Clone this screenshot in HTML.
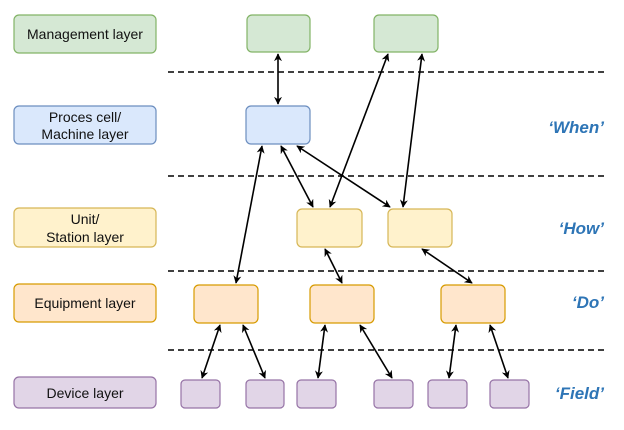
<!DOCTYPE html>
<html><head><meta charset="utf-8"><style>
html,body{margin:0;padding:0;background:#fff}
text{font-family:"Liberation Sans",sans-serif}
</style></head><body>
<svg width="624" height="425" viewBox="0 0 624 425" xmlns="http://www.w3.org/2000/svg">
<defs>
<marker id="a" viewBox="0 0 10 10" refX="9" refY="5" markerWidth="8" markerHeight="8" orient="auto-start-reverse" markerUnits="userSpaceOnUse">
<path d="M0,0 L10,5 L0,10 L3,5 z" fill="#000"/></marker>
</defs>
<g stroke="#000" stroke-width="1.6" stroke-dasharray="6,4">
<line x1="168" y1="72" x2="606" y2="72"/>
<line x1="168" y1="176" x2="606" y2="176"/>
<line x1="168" y1="271" x2="606" y2="271"/>
<line x1="168" y1="350" x2="606" y2="350"/>
</g>
<g stroke-width="1.2">
<rect x="14" y="15" width="142" height="38" rx="5" fill="#d5e8d4" stroke="#82b366"/>
<rect x="14" y="106" width="142" height="38" rx="5" fill="#dae8fc" stroke="#6c8ebf"/>
<rect x="14" y="208" width="142" height="39" rx="5" fill="#fff2cc" stroke="#d6b656"/>
<rect x="14" y="284" width="142" height="38" rx="5" fill="#ffe6cc" stroke="#d79b00"/>
<rect x="14" y="377" width="142" height="31" rx="5" fill="#e1d5e7" stroke="#9673a6"/>

<rect x="247" y="15" width="63" height="37" rx="5" fill="#d5e8d4" stroke="#82b366"/>
<rect x="374" y="15" width="64" height="37" rx="5" fill="#d5e8d4" stroke="#82b366"/>
<rect x="246" y="106" width="64" height="38" rx="5" fill="#dae8fc" stroke="#6c8ebf"/>
<rect x="297" y="209" width="65" height="38" rx="5" fill="#fff2cc" stroke="#d6b656"/>
<rect x="388" y="209" width="64" height="38" rx="5" fill="#fff2cc" stroke="#d6b656"/>
<rect x="194" y="285" width="64" height="38" rx="5" fill="#ffe6cc" stroke="#d79b00"/>
<rect x="310" y="285" width="64" height="38" rx="5" fill="#ffe6cc" stroke="#d79b00"/>
<rect x="441" y="285" width="64" height="38" rx="5" fill="#ffe6cc" stroke="#d79b00"/>
<rect x="181" y="380" width="39" height="28" rx="4" fill="#e1d5e7" stroke="#9673a6"/>
<rect x="246" y="380" width="38" height="28" rx="4" fill="#e1d5e7" stroke="#9673a6"/>
<rect x="297" y="380" width="39" height="28" rx="4" fill="#e1d5e7" stroke="#9673a6"/>
<rect x="374" y="380" width="39" height="28" rx="4" fill="#e1d5e7" stroke="#9673a6"/>
<rect x="428" y="380" width="39" height="28" rx="4" fill="#e1d5e7" stroke="#9673a6"/>
<rect x="490" y="380" width="39" height="28" rx="4" fill="#e1d5e7" stroke="#9673a6"/>
</g>
<g stroke="#000" stroke-width="1.6" marker-start="url(#a)" marker-end="url(#a)">
<line x1="278" y1="54" x2="278" y2="104"/>
<line x1="388" y1="54" x2="330" y2="207"/>
<line x1="422" y1="54" x2="403" y2="207"/>
<line x1="262" y1="146" x2="236" y2="283"/>
<line x1="281" y1="146" x2="313" y2="207"/>
<line x1="297" y1="146" x2="390" y2="207"/>
<line x1="325" y1="249" x2="342" y2="283"/>
<line x1="422" y1="249" x2="472" y2="283"/>
<line x1="220" y1="325" x2="202" y2="378"/>
<line x1="243" y1="325" x2="265" y2="378"/>
<line x1="325" y1="325" x2="318" y2="378"/>
<line x1="360" y1="325" x2="392" y2="378"/>
<line x1="456" y1="325" x2="449" y2="378"/>
<line x1="490" y1="325" x2="508" y2="378"/>
</g>
<g font-size="14" fill="#111" text-anchor="middle">
<text x="85" y="39">Management layer</text>
<text x="85" y="122">Proces cell/</text>
<text x="85" y="139">Machine layer</text>
<text x="85" y="224">Unit/</text>
<text x="85" y="242">Station layer</text>
<text x="85" y="308">Equipment layer</text>
<text x="85" y="398">Device layer</text>
</g>
<g font-size="17" font-weight="bold" font-style="italic" fill="#2e75b6" text-anchor="end">
<text x="604" y="133">‘When’</text>
<text x="604" y="234">‘How’</text>
<text x="604" y="308">‘Do’</text>
<text x="604" y="399">‘Field’</text>
</g>
</svg>
</body></html>
